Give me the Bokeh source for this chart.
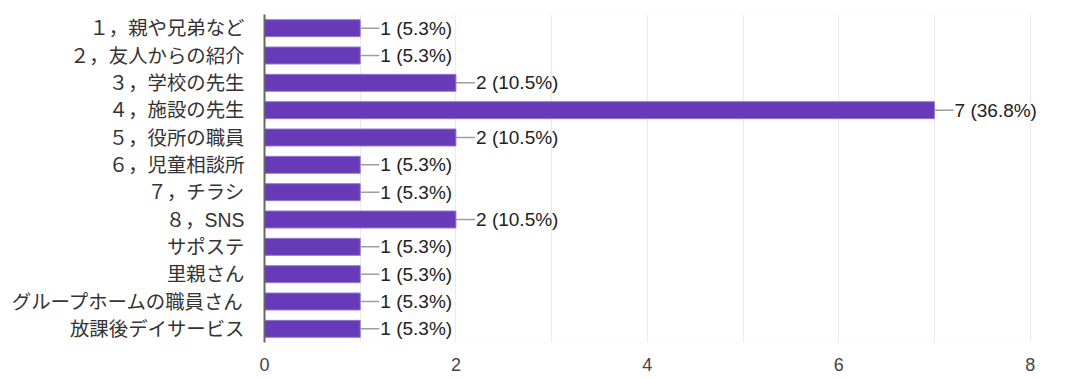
from bokeh.plotting import figure
from bokeh.models import Range1d, FactorRange, ColumnDataSource, FixedTicker, LabelSet, BoxAnnotation
from bokeh.core.properties import value
from bokeh.embed import file_html
from bokeh.resources import INLINE

categories = ["１，親や兄弟など", "２，友人からの紹介", "３，学校の先生", "４，施設の先生",
              "５，役所の職員", "６，児童相談所", "７，チラシ", "８，SNS",
              "サポステ", "里親さん", "グループホームの職員さん", "放課後デイサービス"]
counts = [1, 1, 2, 7, 2, 1, 1, 2, 1, 1, 1, 1]
percents = ["5.3%", "5.3%", "10.5%", "36.8%", "10.5%", "5.3%", "5.3%", "10.5%",
            "5.3%", "5.3%", "5.3%", "5.3%"]
x_ticks = [0, 2, 4, 6, 8]

labels = [f"{c} ({p})" for c, p in zip(counts, percents)]
lead = 0.2
src = ColumnDataSource(dict(cat=categories, val=counts,
                            end=[v + lead for v in counts], lab=labels))

x_max = x_ticks[-1]
# a little extra room past the last tick so the longest value label is not clipped
p = figure(width=1072, height=376, output_backend="svg", toolbar_location=None,
           x_range=Range1d(0, x_max * 1.01875), y_range=FactorRange(*reversed(categories)),
           min_border_left=264, min_border_right=28, min_border_top=14, min_border_bottom=34)

p.add_layout(BoxAnnotation(left=0, right=x_max, fill_alpha=0, line_color="#ebebeb",
                           line_width=1, level="underlay"))

p.hbar(y="cat", right="val", left=0, height=0.62, source=src,
       fill_color="#673ab7", line_color="#9575cd", line_width=1)
p.segment(x0="val", x1="end", y0="cat", y1="cat", source=src, line_color="#9e9e9e", line_width=1.5)
p.add_layout(LabelSet(x="end", y="cat", text="lab", source=src, x_offset=1,
                      text_baseline="middle", text_font_size="19px", text_color="#222222",
                      text_font=value("Liberation Sans")))

p.xaxis.ticker = FixedTicker(ticks=x_ticks)
p.xaxis.axis_line_color = None
p.xaxis.major_tick_line_color = None
p.xaxis.minor_tick_line_color = None
p.xaxis.major_label_text_font = "Liberation Sans"
p.xaxis.major_label_text_font_size = "18px"
p.xaxis.major_label_text_color = "#444444"
p.xaxis.major_label_standoff = 9

p.yaxis.axis_line_color = "#666666"
p.yaxis.axis_line_width = 2
p.yaxis.major_tick_line_color = None
p.yaxis.minor_tick_line_color = None
p.yaxis.major_label_text_font = "Liberation Sans, Noto Sans CJK JP"
p.yaxis.major_label_text_font_size = "19.4px"
p.yaxis.major_label_text_color = "#333333"
p.yaxis.major_label_standoff = 14

p.xgrid.ticker = FixedTicker(ticks=list(range(0, x_max + 1)))
p.xgrid.grid_line_color = "#ebebeb"
p.ygrid.grid_line_color = None
p.outline_line_color = None

open("out.html", "w").write(file_html(p, INLINE))
